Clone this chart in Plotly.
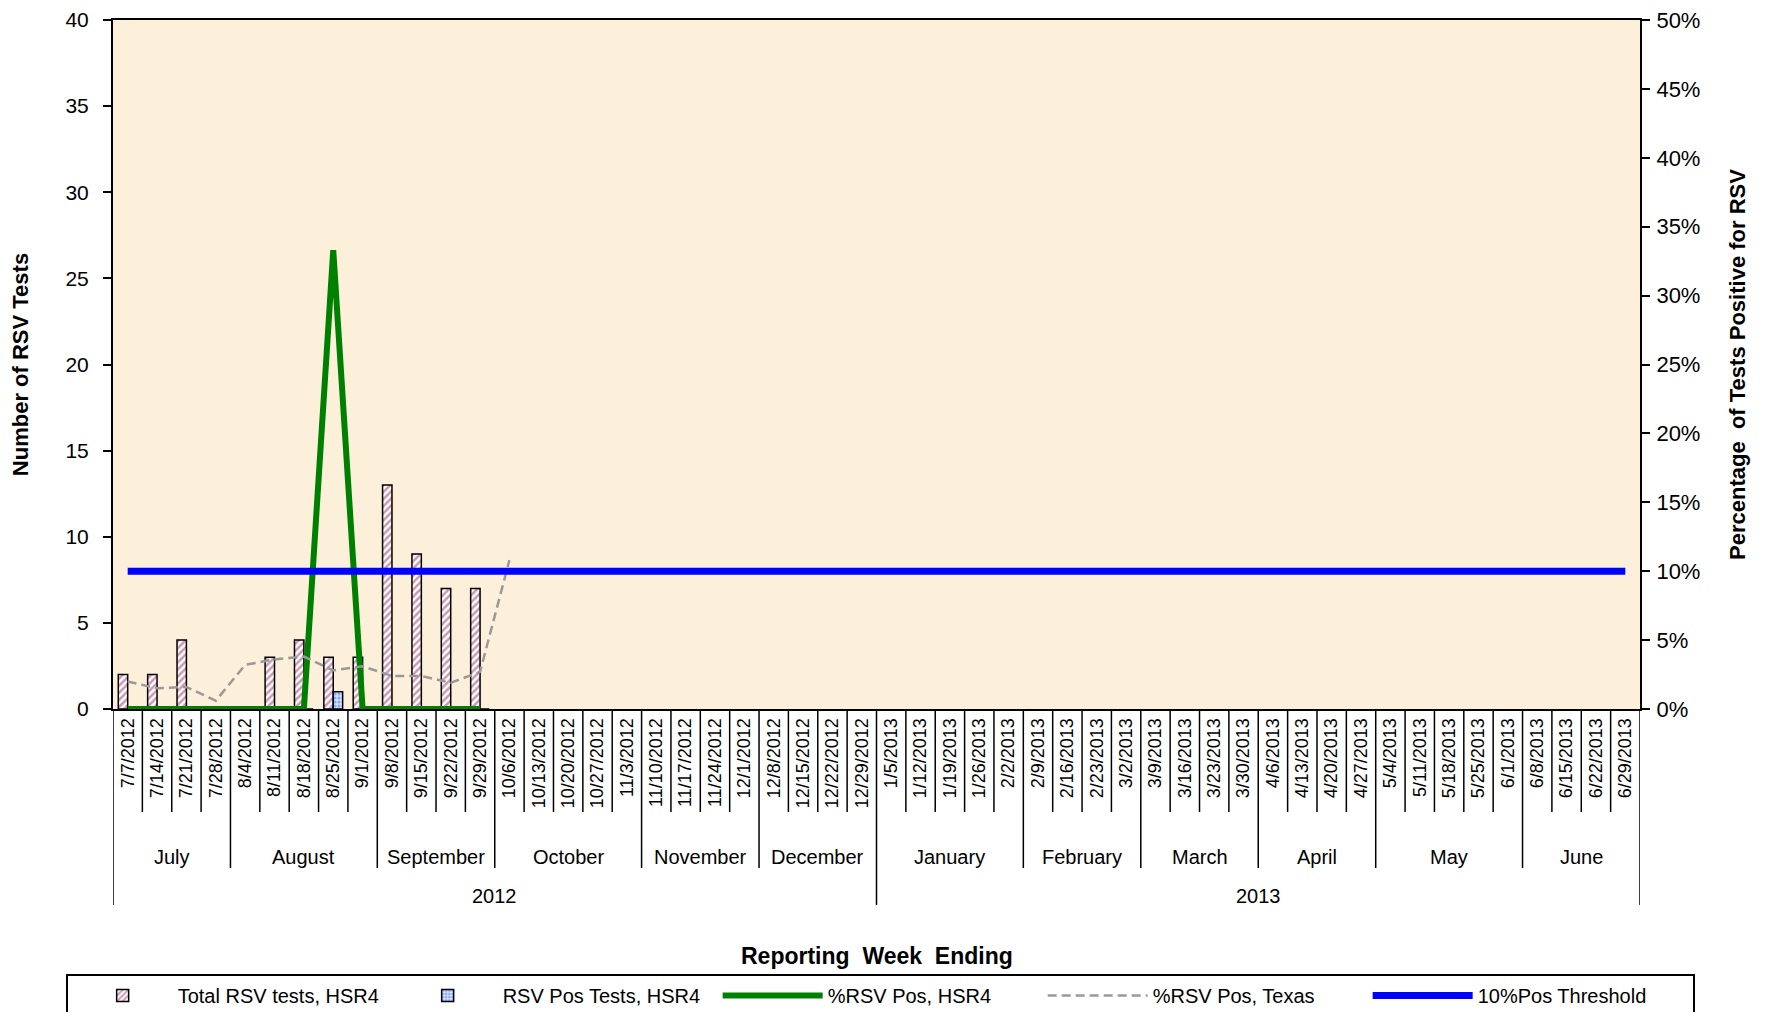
import plotly.graph_objects as go

weeks = ["7/7/2012", "7/14/2012", "7/21/2012", "7/28/2012", "8/4/2012", "8/11/2012", "8/18/2012",
         "8/25/2012", "9/1/2012", "9/8/2012", "9/15/2012", "9/22/2012", "9/29/2012", "10/6/2012",
         "10/13/2012", "10/20/2012", "10/27/2012", "11/3/2012", "11/10/2012", "11/17/2012",
         "11/24/2012", "12/1/2012", "12/8/2012", "12/15/2012", "12/22/2012", "12/29/2012",
         "1/5/2013", "1/12/2013", "1/19/2013", "1/26/2013", "2/2/2013", "2/9/2013", "2/16/2013",
         "2/23/2013", "3/2/2013", "3/9/2013", "3/16/2013", "3/23/2013", "3/30/2013", "4/6/2013",
         "4/13/2013", "4/20/2013", "4/27/2013", "5/4/2013", "5/11/2013", "5/18/2013", "5/25/2013",
         "6/1/2013", "6/8/2013", "6/15/2013", "6/22/2013", "6/29/2013"]

month_labels = ["July", "August", "September", "October", "November", "December",
                "January", "February", "March", "April", "May", "June"]
month_counts = [4, 5, 4, 5, 4, 4, 5, 4, 4, 4, 5, 4]
year_labels = ["2012", "2013"]
year_counts = [26, 26]

total_tests = [2, 2, 4, 0, 0, 3, 4, 3, 3, 13, 9, 7, 7]
pos_tests = [0, 0, 0, 0, 0, 0, 0, 1, 0, 0, 0, 0, 0]
pct_hsr4 = [0, 0, 0, 0, 0, 0, 0, 0.333, 0, 0, 0, 0, 0]
pct_texas = [0.020, 0.015, 0.016, 0.006, 0.032, 0.036, 0.038, 0.028, 0.031, 0.024, 0.024, 0.019, 0.027, 0.108]
threshold = [0.10] * len(weeks)

n = len(weeks)
def pad(v):
    return list(v) + [None] * (n - len(v))

FONT = "Liberation Sans, Arial, sans-serif"

# layout geometry (figure px)
FIG_W, FIG_H = 1751, 1004
M_L, M_R, M_T, M_B = 105, 119, 12, 303
PLOT_H = FIG_H - M_T - M_B

def below(px):
    return -px / PLOT_H

fig = go.Figure()
fig.add_trace(go.Bar(
    x=weeks, y=pad(total_tests), name="Total RSV tests, HSR4",
    marker=dict(color="white", line=dict(color="black", width=1.5),
                pattern=dict(shape="/", fgcolor="#993366", bgcolor="white", size=5, solidity=0.5)),
    yaxis="y"))
fig.add_trace(go.Bar(
    x=weeks, y=pad(pos_tests), name="RSV Pos Tests, HSR4",
    marker=dict(color="white", line=dict(color="black", width=1.5),
                pattern=dict(shape=".", fgcolor="#3366FF", bgcolor="#D6E6FF", size=4, solidity=0.5)),
    yaxis="y"))
fig.add_trace(go.Scatter(
    x=weeks, y=pad(pct_hsr4), name="%RSV Pos, HSR4", mode="lines",
    line=dict(color="#008000", width=6), yaxis="y2"))
fig.add_trace(go.Scatter(
    x=weeks, y=pad(pct_texas), name="%RSV Pos, Texas", mode="lines",
    line=dict(color="#999999", width=2.5, dash="9px,5px"), yaxis="y2"))
fig.add_trace(go.Scatter(
    x=weeks, y=threshold, name="10%Pos Threshold", mode="lines",
    line=dict(color="#0000FF", width=7), yaxis="y2"))

shapes = []
month_bounds = {0}
acc = 0
for c in month_counts:
    acc += c
    month_bounds.add(acc)
year_bounds = {0}
acc = 0
for c in year_counts:
    acc += c
    year_bounds.add(acc)

for b in range(0, n + 1):
    if b in year_bounds:
        y1 = below(196)
    elif b in month_bounds:
        y1 = below(159)
    else:
        y1 = below(103)
    shapes.append(dict(type="line", xref="x", yref="paper", x0=b - 0.5, x1=b - 0.5,
                       y0=0, y1=y1, line=dict(color="black", width=1.5)))

annotations = []
acc = 0
for lab, c in zip(month_labels, month_counts):
    annotations.append(dict(x=acc + c / 2 - 0.5, y=below(148), xref="x", yref="paper", text=lab,
                            showarrow=False, font=dict(size=20, color="black", family=FONT),
                            yanchor="middle"))
    acc += c
acc = 0
for lab, c in zip(year_labels, year_counts):
    annotations.append(dict(x=acc + c / 2 - 0.5, y=below(187), xref="x", yref="paper", text=lab,
                            showarrow=False, font=dict(size=20, color="black", family=FONT),
                            yanchor="middle"))
    acc += c
annotations.append(dict(x=0.5, y=below(247), xref="paper", yref="paper", text="<b>Reporting  Week  Ending</b>",
                        showarrow=False, font=dict(size=23, color="black", family=FONT), yanchor="middle"))

fig.update_layout(
    width=FIG_W, height=FIG_H,
    margin=dict(l=M_L, r=M_R, t=M_T, b=M_B, autoexpand=False),
    paper_bgcolor="white", plot_bgcolor="#FCF0DB",
    font=dict(family=FONT, color="black", size=20),
    barmode="group", bargap=0.36, bargroupgap=0,
    showlegend=True,
    xaxis=dict(type="category", range=[-0.5, n - 0.5], tickangle=-90, ticks="",
               tickfont=dict(size=18), showline=True, mirror=True, linecolor="black", linewidth=2,
               showgrid=False, zeroline=False),
    yaxis=dict(range=[0, 40], dtick=5, ticks="outside", ticklen=8, tickwidth=1.5, tickcolor="black",
               showline=True, linecolor="black", linewidth=2, showgrid=False, zeroline=False,
               tickfont=dict(size=21), ticklabeloverflow="allow", ticklabelstandoff=10,
               title=dict(text="<b>Number of RSV Tests</b>", font=dict(size=22), standoff=37)),
    yaxis2=dict(range=[0, 0.5], dtick=0.05, tickformat=".0%", overlaying="y", side="right",
                ticks="outside", ticklen=8, tickwidth=1.5, tickcolor="black",
                showline=True, linecolor="black", linewidth=2, showgrid=False, zeroline=False,
                tickfont=dict(size=22), ticklabeloverflow="allow", ticklabelstandoff=2,
                title=dict(text="<b>Percentage  of Tests Positive for RSV</b>", font=dict(size=22), standoff=30)),
    legend=dict(orientation="h", x=-0.031, xanchor="left", y=below(265), yanchor="top",
                bordercolor="black", borderwidth=2, bgcolor="white",
                font=dict(size=20, family=FONT), itemwidth=100, entrywidth=210,
                traceorder="normal"),
    shapes=shapes, annotations=annotations,
)

fig.write_html("out.html")
